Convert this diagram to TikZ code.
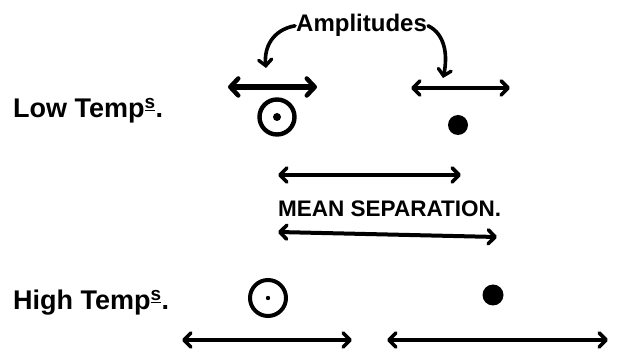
\documentclass[tikz,border=0pt]{standalone}
\usepackage{fontspec}
\setmainfont{Liberation Sans}
\usetikzlibrary{arrows.meta}
\begin{document}
\begin{tikzpicture}[x=1pt,y=-1pt,
  tipbig/.tip={Straight Barb[length=8pt,width=17pt,line width=4.5pt,line cap=round,line join=round]},
  tipmid/.tip={Straight Barb[length=7pt,width=14pt,line width=3.6pt,line cap=round,line join=round]},
  amp/.style={line width=6pt,tipbig-tipbig},
  sep/.style={line width=4pt,tipmid-tipmid},
  curvearrow/.style={line width=3.6pt,line cap=round,-{Straight Barb[length=6pt,width=13pt,line width=3.4pt,line cap=round]}},
  lbl/.style={font=\bfseries\fontsize{27}{29}\selectfont, inner sep=0pt},
  txt/.style={font=\bfseries\fontsize{24}{26}\selectfont, inner sep=1pt},
  caps/.style={font=\bfseries\fontsize{22.5}{24}\selectfont, inner sep=0pt}
]
\useasboundingbox (0,0) rectangle (619,355);
% labels
\node[lbl, anchor=base west] (low) at (13,118) {Low Temp\textsuperscript{\underline{s}}.};
\node[lbl, anchor=base west] (high) at (13,310) {High Temp\textsuperscript{\underline{s}}.};
\node[txt, anchor=base west] (amp) at (295,32) {Amplitudes};
\node[caps, anchor=base west] (ms) at (278,217) {MEAN SEPARATION.};
% coordinates
\coordinate (a1) at (228,87); \coordinate (a2) at (317,87);
\coordinate (b1) at (411,88); \coordinate (b2) at (510,88);
\coordinate (m1) at (278,175); \coordinate (m2) at (461,175);
\coordinate (n1) at (278,232); \coordinate (n2) at (497,237);
\coordinate (h1) at (182,340); \coordinate (h2) at (352,340);
\coordinate (k1) at (387,340); \coordinate (k2) at (608,340);
\coordinate (t1) at (266,68); \coordinate (t2) at (443,78);
% atoms
\node[circle, draw, line width=4.4pt, minimum size=35pt, inner sep=0pt] (c1) at (277,117) {};
\fill (c1.center) circle (4pt);
\node[circle, fill, minimum size=20pt, inner sep=0pt] (d1) at (458,125) {};
\node[circle, draw, line width=4pt, minimum size=36pt, inner sep=0pt] (c2) at (268,298) {};
\fill (c2.center) circle (2.2pt);
\node[circle, fill, minimum size=21pt, inner sep=0pt] (d2) at (493,295) {};
% arrows
\draw[amp] (a1) -- (a2);
\draw[sep] (b1) -- (b2);
\draw[sep] (m1) -- (m2);
\draw[sep] (n1) -- (n2);
\draw[sep, line width=4.8pt] (h1) -- (h2);
\draw[sep, line width=4.8pt] (k1) -- (k2);
\draw[curvearrow] (amp.west) .. controls (272,30) and (264,48) .. (t1);
\draw[curvearrow] (amp.east) .. controls (445,34) and (448,55) .. (t2);
\end{tikzpicture}
\end{document}
